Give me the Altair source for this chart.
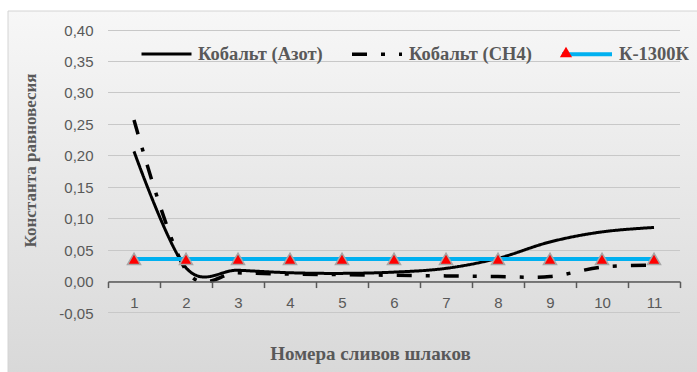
import altair as alt
import pandas as pd

slivy = ["1", "2", "3", "4", "5", "6", "7", "8", "9", "10", "11"]
kobalt_azot = [0.207, 0.022, 0.018, 0.014, 0.013, 0.015, 0.021, 0.037, 0.063, 0.079, 0.086]
kobalt_ch4 = [0.257, 0.018, 0.014, 0.012, 0.011, 0.010, 0.009, 0.008, 0.008, 0.023, 0.026]
k_1300k = [0.036, 0.036, 0.036, 0.036, 0.036, 0.036, 0.036, 0.036, 0.036, 0.036, 0.036]
series_names = ["Кобальт (Азот)", "Кобальт (CH4)", "К-1300К"]
y_ticks = [-0.05, 0.0, 0.05, 0.10, 0.15, 0.20, 0.25, 0.30, 0.35, 0.40]

W, H = 572, 283
GREY = "#595959"
Y_MIN, Y_MAX = -0.05, 0.40

rows = []
for name, vals in zip(series_names, [kobalt_azot, kobalt_ch4, k_1300k]):
    for s, v in zip(slivy, vals):
        rows.append({"slivy": s, "value": v, "series": name})
df = pd.DataFrame(rows)
kdf = pd.DataFrame({"slivy": slivy, "value": k_1300k, "marker": [series_names[2]] * len(slivy)})

# gridline stripes (derived from the tick values) as a hard-stop gradient
LINE = "#c8c8c8"
CLEAR = "rgba(200,200,200,0)"
half = 0.6 / H
stops = []
for t in sorted(y_ticks, reverse=True):
    o = (Y_MAX - t) / (Y_MAX - Y_MIN)
    a = max(0.0, o - half)
    b = min(1.0, o + half)
    if a > 0:
        stops.append(alt.GradientStop(color=CLEAR, offset=a))
    stops.append(alt.GradientStop(color=LINE, offset=a))
    stops.append(alt.GradientStop(color=LINE, offset=b))
    if b < 1:
        stops.append(alt.GradientStop(color=CLEAR, offset=b))

x_scale = alt.Scale(type="band", paddingInner=0, paddingOuter=0)
x_axis = alt.Axis(
    title="Номера сливов шлаков", orient="bottom", offset=-H * 0.05 / 0.45,
    tickBand="extent", labelAngle=0, domainColor=GREY, domainWidth=1.5,
    tickColor=GREY, tickWidth=1.5, tickSize=6, labelPadding=8,
    labelFont="Liberation Sans", labelFontSize=15, labelColor=GREY, grid=False,
    titleFont="Liberation Serif", titleFontWeight="bold", titleFontSize=19,
    titleColor=GREY, titleX=262, titleY=72, titleAlign="center",
    titleBaseline="middle", zindex=2,
)
y_scale = alt.Scale(domain=[Y_MIN, Y_MAX], nice=False, zero=False)
y_axis = alt.Axis(
    title="Константа равновесия", values=y_ticks, labelOverlap=False,
    labelExpr="replace(replace(format(datum.value, '.2f'), '.', ','), '\u2212', '-')",
    domain=False, ticks=False, grid=False, labelPadding=15,
    labelFont="Liberation Sans", labelFontSize=15, labelColor=GREY,
    titleFont="Liberation Serif", titleFontWeight="bold", titleFontSize=17,
    titleColor=GREY, titleX=-78, titleY=130, titleAlign="center",
    titleBaseline="middle", zindex=1,
)

bg = alt.Chart(pd.DataFrame({"a": [0]})).mark_rect(
    fill=alt.Gradient(
        gradient="linear",
        stops=[alt.GradientStop(color="#f7f7f7", offset=0),
               alt.GradientStop(color="#d7d7d7", offset=1)],
        x1=0, x2=0, y1=0, y2=1,
    ),
    stroke="#d4d4d4", strokeWidth=1, clip=False,
).encode(x=alt.value(-100), x2=alt.value(600), y=alt.value(-19), y2=alt.value(360))

grid = alt.Chart(pd.DataFrame({"a": [0]})).mark_rect(
    fill=alt.Gradient(gradient="linear", stops=stops, x1=0, x2=0, y1=0, y2=1),
    strokeWidth=0, clip=False,
).encode(x=alt.value(0), x2=alt.value(W), y=alt.value(0), y2=alt.value(H))

lines = alt.Chart(df).mark_line(interpolate="cardinal").encode(
    x=alt.X("slivy:O", sort=slivy, scale=x_scale, axis=x_axis),
    y=alt.Y("value:Q", scale=y_scale, axis=y_axis),
    color=alt.Color(
        "series:N", sort=series_names,
        scale=alt.Scale(domain=series_names, range=["#000000", "#000000", "#00B0F0"]),
        legend=alt.Legend(
            orient="none", legendX=32, legendY=-3, direction="horizontal", title=None,
            symbolType="stroke", symbolSize=2500, symbolStrokeWidth=3,
            labelFont="Liberation Serif", labelFontWeight="bold", labelFontSize=18.5,
            labelColor=GREY, columnPadding=22, labelOffset=5, labelLimit=0,
        ),
    ),
    strokeDash=alt.StrokeDash(
        "series:N", sort=series_names,
        scale=alt.Scale(domain=series_names, range=[[1, 0], [15, 14, 4, 14], [1, 0]]),
    ),
    strokeWidth=alt.StrokeWidth(
        "series:N", scale=alt.Scale(domain=series_names, range=[3, 4, 3.5]), legend=None
    ),
)

tri = alt.Chart(kdf).mark_point(
    shape="triangle-up", filled=True, color="#FF0000", stroke="#A6A6A6",
    strokeWidth=1.5, size=170, opacity=1,
).encode(
    x=alt.X("slivy:O", sort=slivy, scale=x_scale, axis=x_axis),
    y=alt.Y("value:Q", scale=y_scale, axis=None),
    shape=alt.Shape(
        "marker:N", scale=alt.Scale(range=["triangle-up"]),
        legend=alt.Legend(
            orient="none", legendX=451, legendY=15, title=None, labelExpr="''",
            symbolFillColor="#FF0000", symbolStrokeColor="#A6A6A6",
            symbolStrokeWidth=1.5, symbolSize=150, symbolOpacity=1,
        ),
    ),
)

chart = alt.layer(bg, grid, lines, tri).resolve_axis(y="independent").properties(
    width=W, height=H,
    padding={"left": 108, "top": 30, "right": 17, "bottom": 59},
    autosize=alt.AutoSizeParams(type="none"),
).configure(background="white").configure_view(stroke=None)

chart.save("out.html", embed_options={"renderer": "svg", "actions": False})
